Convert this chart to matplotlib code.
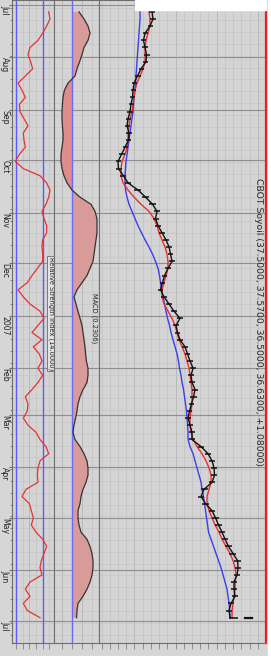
import matplotlib
matplotlib.use('Agg')
import matplotlib.pyplot as plt
import matplotlib.dates as mdates
from matplotlib.patches import Rectangle
import numpy as np
import pandas as pd

# CBOT Soyoil, Jul 2006 - Jun 2007, sampled every ~3 trading days
close = [27.14, 27.26, 26.89, 26.29, 26.10, 26.29, 26.47, 26.41, 25.80, 25.37,
         24.95, 24.83, 24.77, 24.58, 24.46, 24.22, 24.10, 24.34, 24.28, 23.85,
         23.43, 23.00, 23.06, 23.67, 24.22, 25.43, 26.35, 27.20, 27.75, 27.56,
         27.87, 28.35, 28.84, 29.21, 29.39, 29.57, 29.08, 28.66, 28.41, 28.17,
         28.60, 29.21, 29.81, 30.54, 30.06, 30.24, 30.54, 31.15, 31.46, 31.76,
         32.13, 31.88, 32.00, 32.37, 32.19, 31.94, 31.70, 31.52, 31.76, 32.00,
         32.00, 33.10, 33.95, 34.44, 34.68, 34.74, 34.44, 33.46, 33.10, 33.65,
         34.44, 34.86, 35.23, 35.65, 36.02, 36.44, 36.99, 37.54, 37.60, 37.48,
         37.11, 37.11, 37.23, 36.75, 36.50, 36.63]
high = [27.45, 27.60, 27.30, 26.70, 26.40, 26.60, 26.85, 26.70, 26.20, 25.75,
        25.30, 25.15, 25.05, 24.90, 24.80, 24.55, 24.45, 24.65, 24.60, 24.20,
        23.80, 23.35, 23.45, 24.00, 24.60, 25.80, 26.75, 27.60, 28.10, 27.95,
        28.20, 28.70, 29.20, 29.55, 29.75, 29.95, 29.45, 29.00, 28.75, 28.50,
        28.95, 29.60, 30.20, 30.95, 30.45, 30.60, 30.90, 31.50, 31.80, 32.10,
        32.50, 32.25, 32.35, 32.75, 32.55, 32.30, 32.05, 31.90, 32.10, 32.35,
        32.40, 33.50, 34.35, 34.85, 35.05, 35.10, 34.80, 33.90, 33.50, 34.05,
        34.85, 35.25, 35.60, 36.05, 36.40, 36.85, 37.40, 37.95, 38.00, 37.85,
        37.50, 37.50, 37.60, 37.15, 36.90, 37.57]
low = [26.80, 26.95, 26.60, 26.05, 25.80, 25.95, 26.15, 26.00, 25.50, 25.10,
       24.65, 24.55, 24.45, 24.30, 24.15, 23.95, 23.80, 24.00, 23.95, 23.55,
       23.15, 22.70, 22.80, 23.30, 23.90, 25.00, 25.95, 26.80, 27.35, 27.20,
       27.50, 28.00, 28.45, 28.85, 29.05, 29.20, 28.75, 28.30, 28.10, 27.85,
       28.25, 28.85, 29.45, 30.15, 29.70, 29.90, 30.15, 30.75, 31.10, 31.40,
       31.75, 31.50, 31.65, 32.00, 31.80, 31.60, 31.35, 31.15, 31.40, 31.65,
       31.65, 32.70, 33.55, 34.05, 34.30, 34.35, 34.05, 33.05, 32.70, 33.25,
       34.05, 34.45, 34.85, 35.25, 35.60, 36.05, 36.55, 37.10, 37.20, 37.05,
       36.70, 36.75, 36.85, 36.35, 36.10, 36.50]
ma_fast = [26.77, 26.89, 26.89, 26.65, 26.41, 26.29, 26.29, 26.29, 26.04, 25.68,
           25.31, 25.07, 24.95, 24.83, 24.70, 24.46, 24.34, 24.22, 24.22, 24.10,
           23.85, 23.49, 23.37, 23.37, 23.61, 24.22, 24.95, 25.80, 26.77, 27.38,
           27.75, 27.99, 28.35, 28.72, 28.96, 29.08, 29.08, 28.84, 28.60, 28.35,
           28.35, 28.60, 29.08, 29.57, 29.94, 30.18, 30.42, 30.79, 31.15, 31.40,
           31.64, 31.76, 31.88, 32.00, 32.00, 32.00, 31.88, 31.76, 31.76, 31.88,
           32.13, 32.61, 33.22, 33.71, 34.07, 34.32, 34.32, 34.07, 33.83, 33.83,
           34.07, 34.44, 34.80, 35.29, 35.65, 36.14, 36.63, 36.99, 37.24, 37.36,
           37.24, 37.24, 37.11, 36.99, 36.87, 36.87]
ma_slow = [25.68, 25.68, 25.62, 25.56, 25.50, 25.43, 25.37, 25.31, 25.25, 25.19,
           25.13, 25.07, 24.95, 24.89, 24.83, 24.70, 24.58, 24.46, 24.34, 24.22,
           24.10, 23.97, 23.91, 23.85, 23.85, 23.91, 24.10, 24.34, 24.70, 25.07,
           25.43, 25.86, 26.29, 26.77, 27.20, 27.56, 27.87, 28.05, 28.17, 28.29,
           28.48, 28.66, 28.84, 29.02, 29.27, 29.45, 29.69, 29.94, 30.18, 30.36,
           30.48, 30.67, 30.79, 30.97, 31.09, 31.21, 31.33, 31.40, 31.46, 31.52,
           31.52, 31.76, 32.13, 32.37, 32.61, 32.86, 33.10, 33.22, 33.40, 33.52,
           33.65, 33.77, 33.89, 34.01, 34.32, 34.62, 34.92, 35.23, 35.53, 35.78,
           36.02, 36.26, 36.38, 36.51, 36.57, 36.63]
rsi = [79, 81, 76, 70, 63, 51, 48, 52, 55, 44,
       33, 39, 44, 35, 36, 42, 48, 41, 42, 44,
       35, 29, 41, 66, 76, 81, 79, 75, 69, 72,
       76, 76, 70, 69, 70, 70, 62, 54, 47, 33,
       41, 51, 66, 72, 63, 54, 69, 56, 65, 69,
       63, 70, 63, 54, 44, 48, 47, 41, 48, 60,
       66, 75, 79, 66, 63, 62, 63, 45, 39, 50,
       53, 56, 53, 60, 70, 76, 72, 68, 66, 69,
       51, 44, 51, 41, 47, 66]
macd = [0.35, 0.60, 0.80, 0.90, 0.80, 0.60, 0.50, 0.38, 0.25, 0.15,
        -0.20, -0.38, -0.45, -0.48, -0.50, -0.50, -0.48, -0.45, -0.45, -0.50,
        -0.55, -0.55, -0.50, -0.40, -0.25, 0.00, 0.40, 0.95, 1.15, 1.25,
        1.25, 1.25, 1.20, 1.15, 1.10, 1.05, 0.90, 0.75, 0.50, 0.25,
        0.10, 0.20, 0.30, 0.40, 0.50, 0.55, 0.60, 0.65, 0.68, 0.72,
        0.80, 0.80, 0.75, 0.55, 0.40, 0.30, 0.25, 0.18, 0.10, 0.05,
        0.15, 0.40, 0.60, 0.75, 0.80, 0.80, 0.70, 0.55, 0.45, 0.40,
        0.30, 0.30, 0.35, 0.45, 0.75, 0.90, 1.00, 1.05, 1.05, 1.00,
        0.90, 0.75, 0.55, 0.30, 0.25, 0.23]
last_mark = [38.5, 39.3]
month_labels = ['Jul', 'Aug', 'Sep', 'Oct', 'Nov', 'Dec', '2007',
                'Feb', 'Mar', 'Apr', 'May', 'Jun', 'Jul']
title = 'CBOT Soyoil (37.5000, 37.5700, 36.5000, 36.6300, +1.08000)'

W, H = 271, 656
BOT = 643
fig = plt.figure(figsize=(W / 100, H / 100), dpi=100, facecolor='#d6d6d6')
plt.rcParams['hatch.linewidth'] = 1.2


def box(x0, x1):
    return [x0 / W, (H - BOT) / H, (x1 - x0) / W, BOT / H]


ax_rsi = fig.add_axes(box(12, 54))
ax_macd = fig.add_axes(box(54, 99))
ax_px = fig.add_axes(box(99, 266))

dates = pd.date_range('2006-07-05', '2007-06-29', periods=len(close))
yd = mdates.date2num(dates.to_pydatetime())
ym = mdates.date2num(pd.date_range('2006-07-01', '2007-07-01', freq='MS').to_pydatetime())
yw = mdates.date2num(pd.date_range('2006-06-28', '2007-07-14', freq='W-MON').to_pydatetime())
y_top = mdates.date2num(pd.Timestamp('2006-06-28').to_pydatetime())
y_bot = mdates.date2num(pd.Timestamp('2007-07-14').to_pydatetime())

for ax in (ax_rsi, ax_macd, ax_px):
    ax.set_facecolor('#d4d4d4')
    ax.set_ylim(y_bot, y_top)
    ax.set_yticks(ym)
    ax.set_yticks(yw, minor=True)
    ax.set_axisbelow(True)
    ax.grid(axis='y', which='major', color='#8e8e8e', lw=0.8)
    ax.grid(axis='y', which='minor', color='#c6c6c6', lw=0.5)
    ax.grid(axis='x', which='minor', color='#c0c0c0', lw=0.5)
    ax.grid(axis='x', which='major', color='#b4b4b4', lw=0.6)
    ax.tick_params(axis='y', which='both', left=False, labelleft=False)
    ax.tick_params(axis='x', which='both', direction='out', length=4,
                   color='#808080', width=0.6, labelbottom=False)
    for s in ax.spines.values():
        s.set_color('#6e6e6e')
        s.set_linewidth(0.8)

# RSI panel
ax_rsi.set_xlim(24, 87)
ax_rsi.set_xticks(np.arange(30, 90, 20))
ax_rsi.set_xticks(np.arange(30, 90, 10), minor=True)
ax_rsi.axvline(30, color='#5a5aff', lw=1)
ax_rsi.axvline(70, color='#5a5aff', lw=1)
ax_rsi.plot(rsi, yd, color='#e63232', lw=0.9)
ax_rsi.tick_params(axis='y', which='major', left=True, length=2, color='#6e6e6e',
                   labelleft=True, labelsize=5.6, pad=0)
ax_rsi.tick_params(axis='y', which='minor', left=True, length=1.5, color='#6e6e6e')
ax_rsi.set_yticklabels(month_labels, rotation=-90, va='top', ha='right', color='#222222')
ax_rsi.text(0.93, 1 - 257 / BOT, 'Relative Strength Index (14.0000)',
            transform=ax_rsi.transAxes, rotation=-90, ha='center', va='top',
            fontsize=4.8, color='#222222', clip_on=False, zorder=5,
            bbox=dict(facecolor='#e2e2e2', edgecolor='#555555', lw=0.5, pad=0.8))

# MACD panel
m = np.array(macd)
ax_macd.set_xlim(-0.9, 1.35)
ax_macd.set_xticks(np.arange(-0.5, 1.5, 1.0))
ax_macd.set_xticks(np.arange(-0.5, 1.5, 0.5), minor=True)
ax_macd.fill_betweenx(yd, 0, m, where=m >= 0, interpolate=True,
                      color='#d99a9a', lw=0)
ax_macd.fill_betweenx(yd, 0, m, where=m <= 0, interpolate=True,
                      facecolor='#e4d6d6', edgecolor='#df8c8c', hatch='-' * 28, lw=0)
ax_macd.axvline(0, color='#6a6aff', lw=1)
ax_macd.plot(m, yd, color='#333333', lw=0.9)
ax_macd.text((94 - 54) / 45, 1 - 293 / BOT, 'MACD (0.2306)', transform=ax_macd.transAxes,
             rotation=-90, ha='center', va='top', fontsize=4.8, color='#222222')

# price panel
ax_px.set_xlim(20.69, 41.0)
ax_px.set_xticks(np.arange(25, 41, 5))
ax_px.set_xticks(np.arange(21, 41, 1), minor=True)
ax_px.plot(ma_slow, yd, color='#3c3cf0', lw=1)
ax_px.plot(ma_fast, yd, color='#e62e2e', lw=1)
ax_px.hlines(yd, low, high, color='#111111', lw=1.1)
ax_px.plot(close, yd, color='#111111', lw=1.0)
ax_px.plot(last_mark, [yd[-1], yd[-1]], color='#111111', lw=1.6)
ax_px.spines['right'].set_color('#ee1c1c')
ax_px.spines['right'].set_linewidth(1.6)
ax_px.text((258 - 99) / 167, 1 - 178 / BOT, title, transform=ax_px.transAxes,
           rotation=-90, ha='center', va='top', fontsize=6.7, color='#2a2a2a')

# white margins of the screenshot
fig.patches.append(Rectangle((135 / W, 1 - 10 / H), 131 / W, 10 / H,
                             transform=fig.transFigure, color='white', zorder=10))
fig.patches.append(Rectangle((268 / W, 0), 3 / W, 1, transform=fig.transFigure,
                             color='white', zorder=10))

fig.savefig('out.png', dpi=100, facecolor=fig.get_facecolor())
